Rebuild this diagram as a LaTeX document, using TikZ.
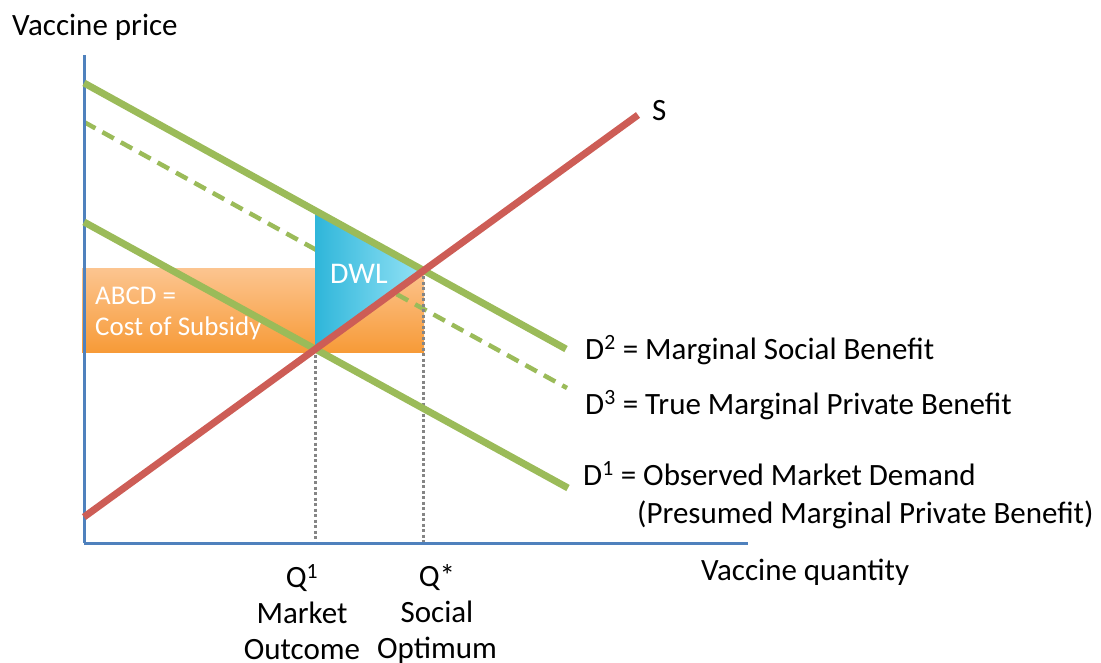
\documentclass[tikz,border=0pt]{standalone}
\usepackage{fontspec}
\setmainfont{Carlito}
\usetikzlibrary{positioning}

\definecolor{axisblue}{HTML}{4F81BD}
\definecolor{demandgreen}{HTML}{9BBB59}
\definecolor{supplyred}{HTML}{CD5D56}
\definecolor{guidegray}{HTML}{858585}
\definecolor{subsidytop}{HTML}{FCC590}
\definecolor{subsidybot}{HTML}{F79B38}
\definecolor{dwlleft}{HTML}{2FB6DA}
\definecolor{dwlright}{HTML}{95E3F6}

\begin{document}
\begin{tikzpicture}[x=1pt,y=-1pt,
  every node/.style={font=\fontsize{31}{36}\selectfont,inner sep=0pt},
  axis line/.style={draw=axisblue,line width=3pt},
  demand/.style={draw=demandgreen,line width=7pt},
  true demand/.style={draw=demandgreen,line width=4.5pt,dash pattern=on 13pt off 8pt},
  supply/.style={draw=supplyred,line width=7pt},
  guide/.style={draw=guidegray,line width=3pt,dash pattern=on 3pt off 2.5pt},
  curve label/.style={anchor=base west},
  white text/.style={text=white}]

  \useasboundingbox (0,0) rectangle (1101,662);

  % axes and curve end points
  \coordinate (origin) at (84,543);
  \coordinate (ytop) at (84,55);
  \coordinate (xend) at (748,543);
  \coordinate (s0) at (84,517);
  \coordinate (s1) at (638,115);
  \coordinate (dtwo0) at (84,83);
  \coordinate (dtwo1) at (566,349);
  \coordinate (dthree0) at (84,122);
  \coordinate (dthree1) at (567,388);
  \coordinate (done0) at (84,222);
  \coordinate (done1) at (568,488);
  \coordinate (qone) at (315.3,349);
  \coordinate (qstar) at (423.7,270.5);
  \coordinate (dwltop) at (315.3,210.5);

  % cost of subsidy
  \shade[top color=subsidytop,bottom color=subsidybot] (82,268) rectangle (424,352);
  \node[white text,anchor=north west,align=left,font=\fontsize{27}{31}\selectfont] (abcd) at (95,287)
    {ABCD =\\Cost of Subsidy};

  \path (dthree0) edge[true demand] (dthree1);

  % deadweight loss
  \shade[left color=dwlleft,right color=dwlright] (dwltop) -- (qstar) -- (qone) -- cycle;
  \node[white text,anchor=base,font=\fontsize{30}{36}\selectfont] (dwl) at (359,283) {DWL};

  \path (qone) edge[guide] (qone |- origin)
        (qstar) edge[guide] (qstar |- origin);

  \path (ytop) edge[axis line] (origin)
        (origin) edge[axis line] (xend);

  \path (dtwo0) edge[demand] (dtwo1)
        (done0) edge[demand] (done1)
        (s0) edge[supply] (s1);

  % labels
  \node[anchor=base west] (ylabel) at (12,35) {Vaccine price};
  \node[anchor=base west] (xlabel) at (701,580) {Vaccine quantity};
  \node[anchor=base west] (slabel) at (652,120) {S};
  \node[curve label] (dtwolabel) at (585,359) {D\textsuperscript{2} = Marginal Social Benefit};
  \node[curve label] (dthreelabel) at (585,414) {D\textsuperscript{3} = True Marginal Private Benefit};
  \node[curve label] (donelabel) at (583,485) {D\textsuperscript{1} = Observed Market Demand};
  \node[curve label] (donenote) at (637,523) {(Presumed Marginal Private Benefit)};
  \node[anchor=north,align=center] (qonelabel) at (302,564) {Q\textsuperscript{1}\\Market\\Outcome};
  \node[anchor=north,align=center] (qstarlabel) at (437,564) {Q*\\Social\\Optimum};
\end{tikzpicture}
\end{document}
